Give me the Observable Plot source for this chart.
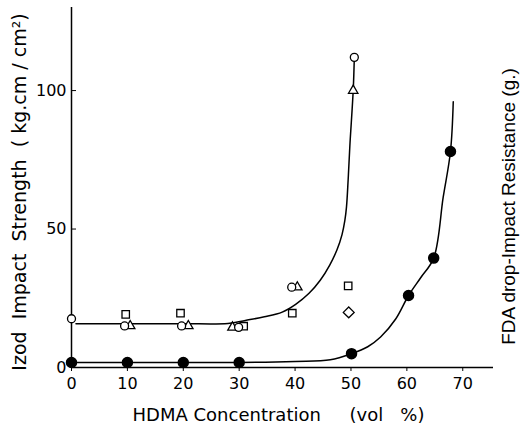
<!DOCTYPE html>
<html><head><meta charset="utf-8">
<script src="https://cdn.jsdelivr.net/npm/d3@7"></script>
<script src="https://cdn.jsdelivr.net/npm/@observablehq/plot@0.6"></script>
<style>body{margin:0;background:#fff}</style>
</head><body><div id="chart"></div>
<script>
const xTicks = [0, 10, 20, 30, 40, 50, 60, 70];
const yTicks = [0, 50, 100];
const xLabel = "HDMA Concentration\u00a0\u00a0\u00a0\u00a0\u00a0(vol\u00a0\u00a0\u00a0%)";
const yLabel = "Izod\u00a0\u00a0Impact\u00a0\u00a0Strength\u00a0\u00a0(\u00a0kg.cm\u00a0/\u00a0cm\u00b2)";
const rightLabel = "FDA drop-Impact Resistance (g.)";

const openCircleX = [0, 9.5, 19.7, 29.9, 39.4, 50.6];
const openCircleY = [17.6, 15, 15, 14.5, 29, 112];
const triangleX = [10.5, 20.9, 28.8, 40.4, 50.4];
const triangleY = [15, 15, 14.5, 29, 100];
const squareX = [9.7, 19.5, 30.8, 39.5, 49.5];
const squareY = [19.2, 19.6, 14.9, 19.6, 29.5];
const diamondX = [49.6];
const diamondY = [19.9];
const filledX = [0, 10, 20, 30, 50.1, 60.3, 64.8, 67.8];
const filledY = [1.8, 1.8, 1.8, 1.8, 5, 26, 39.5, 78];

const upperCurveX = [0.8, 10, 20, 28, 31.1, 34.5, 37.7, 40.1, 42.5, 44.5, 46.2, 47.5, 48.4, 48.9, 49.2, 49.5, 49.8, 50.4, 50.6];
const upperCurveY = [15.8, 15.8, 15.8, 15.9, 17.0, 18.3, 20.0, 22.8, 26.8, 31.5, 37, 42.5, 48, 53, 58, 68, 80, 100, 112];
const lowerCurveX = [0, 10, 20, 30, 40, 46.3, 50.1, 53, 55.3, 58, 60.3, 62.5, 64.8, 66.5, 67.8, 68.3];
const lowerCurveY = [1.8, 1.8, 1.8, 1.8, 2.2, 2.8, 5, 7.5, 11, 17.5, 26, 32.5, 39.5, 61.5, 78, 96];

const zip = (xs, ys) => xs.map((x, i) => ({x, y: ys[i]}));

const sym = {stroke: "black", strokeWidth: 1.3, fill: "white"};

const chart = Plot.plot({
  width: 521, height: 425,
  marginLeft: 71, marginRight: 28, marginTop: 7, marginBottom: 58,
  x: {domain: [0, 75.5]},
  y: {domain: [0, 130]},
  style: {fontFamily: "DejaVu Sans", background: "white", color: "black"},
  marks: [
    Plot.ruleY([0], {strokeWidth: 1.5}),
    Plot.ruleX([0], {strokeWidth: 1.5}),
    Plot.axisX({ticks: xTicks, tickSize: 4, tickPadding: 6, fontSize: 16, label: null}),
    Plot.axisY({ticks: yTicks, tickSize: -5, tickPadding: 10, fontSize: 16, label: null}),
    Plot.line(zip(upperCurveX, upperCurveY), {x: "x", y: "y", curve: "catmull-rom", strokeWidth: 1.5}),
    Plot.line(zip(lowerCurveX, lowerCurveY), {x: "x", y: "y", curve: "catmull-rom", strokeWidth: 1.5}),
    Plot.dot(zip(squareX, squareY), {x: "x", y: "y", symbol: "square", r: 4.2, ...sym}),
    Plot.dot(zip(diamondX, diamondY), {x: "x", y: "y", symbol: "diamond2", r: 4.9, ...sym}),
    Plot.dot(zip(triangleX, triangleY), {x: "x", y: "y", symbol: "triangle", r: 3.5, ...sym}),
    Plot.dot(zip(openCircleX, openCircleY), {x: "x", y: "y", symbol: "circle", r: 4, ...sym}),
    Plot.dot(zip(filledX, filledY), {x: "x", y: "y", symbol: "circle", r: 5, fill: "black", stroke: "black"}),
    Plot.text([xLabel], {text: d => d, frameAnchor: "bottom", textAnchor: "middle", dx: -4, dy: 53, fontSize: 18}),
    Plot.text([yLabel], {text: d => d, frameAnchor: "left", textAnchor: "middle", lineAnchor: "middle", dx: -52, dy: 4.5, rotate: -90, fontSize: 19}),
    Plot.text([rightLabel], {text: d => d, frameAnchor: "right", textAnchor: "middle", lineAnchor: "middle", dx: 15, dy: 19, rotate: -90, fontSize: 19, fontFamily: "Liberation Sans"})
  ]
});
document.getElementById("chart").append(chart);
</script>
</body></html>
